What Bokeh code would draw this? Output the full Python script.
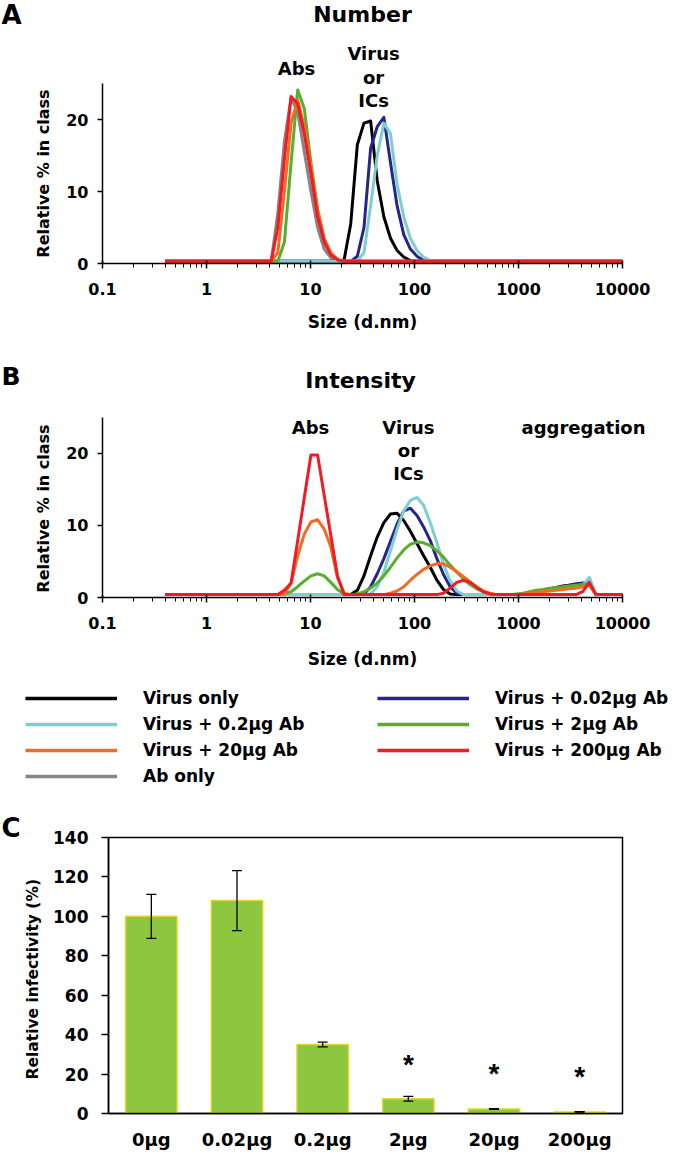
from bokeh.plotting import figure
from bokeh.models import (Label, Legend, LegendItem, FixedTicker, CustomJSTickFormatter,
                          Range1d, FactorRange, Whisker, TeeHead, ColumnDataSource)
from bokeh.layouts import column, row
from bokeh.embed import file_html
from bokeh.resources import INLINE
from bokeh.core.properties import value

FONT = "DejaVu Sans"
STAR_FONT = "Liberation Sans"

# ---------------- data ----------------
# Malvern size classes (d.nm)
size_bins = [0.4, 0.4632, 0.5365, 0.6213, 0.7195, 0.8332, 0.9649, 1.117, 1.294, 1.499,
             1.736, 2.01, 2.328, 2.696, 3.122, 3.615, 4.187, 4.849, 5.615, 6.503,
             7.531, 8.721, 10.1, 11.7, 13.54, 15.69, 18.17, 21.04, 24.36, 28.21,
             32.67, 37.84, 43.82, 50.75, 58.77, 68.06, 78.82, 91.28, 105.7, 122.4,
             141.8, 164.2, 190.1, 220.2, 255.0, 295.3, 342.0, 396.1, 458.7, 531.2,
             615.1, 712.4, 825.0, 955.4, 1106, 1281, 1484, 1718, 1990, 2305,
             2669, 3091, 3580, 4145, 4801, 5560, 6439, 7456, 8635, 10000]
size_ticks = [0.1, 1, 10, 100, 1000, 10000]
size_tick_labels = ["0.1", "1", "10", "100", "1000", "10000"]

a = 0.3  # baseline level of the Number curves as drawn
num_ab_only = [a] * 17 + [7, 17, 23, 21, 15.5, 10, 5, 2, 0.8] + [a] * 44
num_virus = [a] * 27 + [0.5, 5.5, 16.5, 19.5, 19.8, 11.5, 6.5, 3.5, 1.8, 0.9, 0.4] + [a] * 32
num_002 = [a] * 29 + [1, 5, 16, 19, 20.3, 14, 8, 4, 2, 1, 0.4] + [a] * 30
num_02 = [a] * 30 + [1.5, 8, 15, 19.5, 18, 11, 6.5, 3.5, 1.8, 0.9, 0.4] + [a] * 29
num_2 = [a] * 18 + [3, 14, 24.1, 21.5, 14, 7.5, 3.2, 1.3, 0.5] + [a] * 43
num_20 = [a] * 17 + [1.5, 10, 19.5, 22.7, 19, 13.5, 7.5, 3.5, 1.5, 0.6] + [a] * 43
num_200 = [a] * 17 + [5, 14.5, 23.2, 22.2, 18, 12.5, 6.5, 3, 1.2, 0.5] + [a] * 43

b = 0.4  # baseline level of the Intensity curves as drawn
int_virus = ([b] * 29 + [1.0, 3.0, 5.8, 8.4, 10.4, 11.6, 11.7, 10.7, 9.2, 7.5, 5.8, 4.2, 2.4, 1.1, 0.5]
             + [b] * 10 + [0.5, 0.6, 0.8, 1.0, 1.2, 1.4, 1.6, 1.7, 1.8, 1.9, 1.9] + [b] * 5)
int_002 = ([b] * 30 + [0.5, 1.5, 3.3, 5.4, 7.8, 10.2, 12.0, 12.4, 11.4, 9.8, 7.9, 5.4, 3.2, 1.5, 0.6]
           + [b] * 9 + [0.5, 0.6, 0.7, 0.9, 1.1, 1.3, 1.5, 1.7, 1.9, 2.0, 2.0] + [b] * 5)
int_02 = ([b] * 31 + [0.5, 1.5, 3.5, 6.5, 9.5, 12.0, 13.5, 13.9, 12.8, 10.4, 7.6, 4.6, 2.3, 0.9]
          + [b] * 10 + [0.5, 0.7, 0.9, 1.1, 1.2, 1.4, 1.5, 1.6, 1.7, 2.8] + [b] * 5)
int_2 = ([b] * 18 + [0.5, 0.8, 1.5, 2.3, 3.0, 3.3, 3.0, 2.1, 1.1, 0.5] + [b] * 1
         + [0.5, 0.8, 1.3, 2.0, 3.0, 4.2, 5.5, 6.6, 7.4, 7.7, 7.6, 7.2, 6.5, 5.6, 4.5, 3.5, 2.6, 1.8, 1.2, 0.8, 0.5]
         + [b] * 3 + [0.5, 0.6, 0.8, 1.0, 1.1, 1.3, 1.4, 1.5, 1.6, 1.7, 1.8, 1.8] + [b] * 5)
int_20 = ([b] * 18 + [0.5, 2.0, 5.8, 8.8, 10.5, 10.8, 9.5, 7.0, 2.8, 0.6] + [b] * 6
          + [0.6, 0.9, 1.5, 2.4, 3.2, 3.9, 4.4, 4.7, 4.7, 4.2, 3.6, 2.9, 2.2, 1.5, 0.9, 0.6]
          + [b] * 4 + [0.5, 0.6, 0.7, 0.8, 0.9, 1.0, 1.1, 1.2, 1.3, 1.5, 1.7] + [b] * 5)
int_200 = ([b] * 18 + [1.0, 2.0, 7.9, 13.9, 19.8, 19.8, 14.2, 8.6, 3.0] + [b] * 15
           + [0.6, 1.3, 2.1, 2.4, 2.1, 1.4, 0.8, 0.5] + [b] * 13 + [0.8, 2.1] + [b] * 5)

series_names = ["Virus only", "Virus + 0.02\u03bcg Ab", "Virus + 0.2\u03bcg Ab",
                "Virus + 2\u03bcg Ab", "Virus + 20\u03bcg Ab", "Virus + 200\u03bcg Ab", "Ab only"]
series_colors = ["#000000", "#25258C", "#7ECECE", "#58AE2E", "#F36A21", "#EE1C24", "#8A8483"]

number_series = [num_virus, num_002, num_02, num_2, num_20, num_200, num_ab_only]
intensity_series = [int_virus, int_002, int_02, int_2, int_20, int_200]

doses = ["0\u03bcg", "0.02\u03bcg", "0.2\u03bcg", "2\u03bcg", "20\u03bcg", "200\u03bcg"]
infectivity = [100, 108, 35, 7.5, 2.3, 0.8]
infectivity_sd = [11.2, 15.2, 1.2, 1.2, 0.2, 0.15]
sig_doses = ["2\u03bcg", "20\u03bcg", "200\u03bcg"]
sig_y = [25, 20.5, 19]

for s in number_series + intensity_series:
    assert len(s) == len(size_bins)

W = 680


# ---------------- helpers ----------------
def no_align(p):
    if "frame_align" in p.properties():
        p.frame_align = False
    return p


def lab(p, x, y, text, size="18px", align="center", baseline="middle", angle=0):
    p.add_layout(Label(x=x, y=y, text=text, text_font=FONT, text_font_size=size,
                       text_font_style="bold", text_align=align, text_baseline=baseline,
                       text_color="black", angle=angle, angle_units="deg"))


def blank(w, h):
    """An empty canvas (pixel coordinates) that only holds text."""
    p = figure(width=w, height=h, x_range=Range1d(0, w), y_range=Range1d(0, h),
               x_axis_type=None, y_axis_type=None, output_backend="svg",
               toolbar_location=None, min_border=0)
    p.outline_line_color = None
    return no_align(p)


def style_axis(ax, label_size="16px"):
    ax.axis_line_color = "black"
    ax.axis_line_width = 1.5
    ax.major_tick_line_color = "black"
    ax.major_tick_line_width = 1.5
    ax.minor_tick_line_color = "black"
    ax.minor_tick_line_width = 1
    ax.major_label_text_font = FONT
    ax.major_label_text_font_style = "bold"
    ax.major_label_text_font_size = label_size
    ax.major_label_text_color = "black"
    ax.axis_label_text_font = FONT
    ax.axis_label_text_font_style = "bold"
    ax.axis_label_text_font_size = "17px"
    ax.axis_label_text_color = "black"


minor = [m * 10.0 ** e for e in range(-1, 4) for m in range(2, 10)]


def dls_fig(width, height, x_end, y_top, right, bottom, xlabel):
    p = figure(width=width, height=height, x_axis_type="log", x_range=Range1d(0.1, x_end),
               y_range=Range1d(0, y_top), output_backend="svg", toolbar_location=None,
               min_border_left=42, min_border_right=right, min_border_top=0,
               min_border_bottom=bottom)
    no_align(p)
    p.outline_line_color = None
    p.xgrid.visible = False
    p.ygrid.visible = False
    xa = p.xaxis[0]
    style_axis(xa)
    xa.bounds = (0.1, 10000)
    xa.ticker = FixedTicker(ticks=size_ticks, minor_ticks=minor)
    xa.formatter = CustomJSTickFormatter(
        args=dict(tick_vals=size_ticks, tick_labs=size_tick_labels),
        code="const i = tick_vals.indexOf(tick); return i >= 0 ? tick_labs[i] : String(tick);")
    xa.major_tick_in = 3
    xa.major_tick_out = 5
    xa.minor_tick_in = 0
    xa.minor_tick_out = 4
    xa.major_label_standoff = 14
    if xlabel:
        xa.axis_label = xlabel
        xa.axis_label_standoff = 14
    ya = p.yaxis[0]
    style_axis(ya)
    ya.bounds = (0, 25)
    ya.ticker = FixedTicker(ticks=[0, 10, 20])
    ya.major_tick_in = 0
    ya.major_tick_out = 5
    ya.minor_tick_line_color = None
    ya.major_label_standoff = 9
    return p


# ---------------- panel A (page rows 0-338) ----------------
ya_side = blank(60, 338)
lab(ya_side, 1, 324, "A", "26px", "left")
lab(ya_side, 43, 165, "Relative % in class", "16px", angle=90)

pa = dls_fig(620, 338, 10000, 36.53, 58, 75, "Size (d.nm)")
for i in [6, 0, 1, 2, 3, 4, 5]:
    pa.line(size_bins, number_series[i], line_color=series_colors[i], line_width=3,
            line_join="round")
lab(pa, 31.6, 34.6, "Number", "22px")
lab(pa, 7.33, 27.1, "Abs")
lab(pa, 40.4, 29.2, "Virus")
lab(pa, 40.4, 25.8, "or")
lab(pa, 40.4, 22.6, "ICs")

# ---------------- panel B (page rows 338-672) ----------------
yb_side = blank(60, 299)
lab(yb_side, 1, 261, "B", "25px", "left")
lab(yb_side, 43, 129, "Relative % in class", "16px", angle=90)

pb = dls_fig(620, 299, 36130, 35.97, 0, 40, None)
for i in range(6):
    pb.line(size_bins, intensity_series[i], line_color=series_colors[i], line_width=3,
            line_join="round")
lab(pb, 30.3, 30.1, "Intensity", "22px")
lab(pb, 10.0, 23.6, "Abs")
lab(pb, 87.5, 23.6, "Virus")
lab(pb, 87.5, 20.4, "or")
lab(pb, 87.5, 17.2, "ICs")
lab(pb, 4217, 23.6, "aggregation")

xb_label = blank(W, 35)
lab(xb_label, 362, 14, "Size (d.nm)", "17px")

# ---------------- legend (page rows 672-800) ----------------
pl = figure(width=W, height=128, x_axis_type=None, y_axis_type=None,
            x_range=Range1d(-2, -1), y_range=Range1d(-2, -1), output_backend="svg",
            toolbar_location=None, min_border_left=25, min_border_top=15,
            min_border_right=0, min_border_bottom=0)
no_align(pl)
pl.outline_line_color = None
items = []
for name, color, ys in zip(series_names, series_colors, number_series):
    # same series data; the view range keeps them out of sight, only the key is shown
    r = pl.line(size_bins, ys, line_color=color, line_width=3.5)
    items.append(LegendItem(label=name, renderers=[r]))
legend = Legend(items=items, orientation="horizontal", ncols=2, location="top_left",
                margin=0, padding=0, spacing=5, glyph_width=92, glyph_height=20,
                label_height=21, label_width=229, label_standoff=26,
                label_text_font=FONT, label_text_font_style="bold",
                label_text_font_size="17px", label_text_color="black",
                border_line_color=None, background_fill_alpha=0)
pl.add_layout(legend)

# ---------------- panel C (page rows 800-1152) ----------------
yc_side = blank(50, 352)
lab(yc_side, 1, 325, "C", "26px", "left")
lab(yc_side, 32, 176, "Relative infectivity  (%)", "15.5px", angle=90)

pc = figure(width=630, height=352, x_range=FactorRange(factors=doses), y_range=Range1d(0, 140),
            output_backend="svg", toolbar_location=None, min_border_left=58,
            min_border_right=58, min_border_top=37, min_border_bottom=37)
no_align(pc)
pc.xgrid.visible = False
pc.ygrid.visible = False
pc.outline_line_color = "black"
pc.outline_line_width = 1.5
pc.vbar(x=doses, top=infectivity, width=0.6, fill_color="#8DC63F", line_color="#E2D52B",
        line_width=1.5)
src = ColumnDataSource(data=dict(
    x=doses,
    upper=[m + s for m, s in zip(infectivity, infectivity_sd)],
    lower=[m - s for m, s in zip(infectivity, infectivity_sd)]))
pc.add_layout(Whisker(base="x", upper="upper", lower="lower", source=src, level="overlay",
                      line_color="black", line_width=1.3,
                      upper_head=TeeHead(size=10, line_width=1.3, line_color="black"),
                      lower_head=TeeHead(size=10, line_width=1.3, line_color="black")))
pc.text(x=sig_doses, y=sig_y, text=["*"] * len(sig_doses), text_font=value(STAR_FONT),
        text_font_size="28px", text_font_style="bold", text_align="center",
        text_baseline="alphabetic", text_color="black")
xc = pc.xaxis[0]
style_axis(xc, "18px")
xc.major_tick_line_color = None
xc.major_tick_out = 0
xc.major_tick_in = 0
xc.minor_tick_line_color = None
xc.major_label_standoff = 15
yc = pc.yaxis[0]
style_axis(yc, "17px")
yc.ticker = FixedTicker(ticks=[0, 20, 40, 60, 80, 100, 120, 140])
yc.major_tick_in = 0
yc.major_tick_out = 7
yc.minor_tick_line_color = None
yc.major_label_standoff = 13

layout = column(row(ya_side, pa), row(yb_side, pb), xb_label, pl, row(yc_side, pc))
open("out.html", "w").write(file_html(layout, INLINE))
